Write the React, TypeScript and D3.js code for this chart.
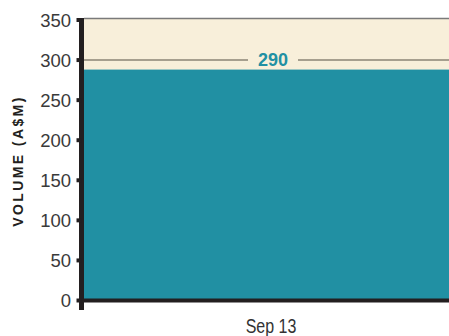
import React from "react";
import * as d3 from "d3";

const categories = ["Sep 13"];
const volumes = [290];
const yTicks = [0, 50, 100, 150, 200, 250, 300, 350];
const referenceValue = 300;
const yTitle = "VOLUME (A$M)";

export default function App() {
  const W = 449, H = 336;
  const x = d3.scaleBand().domain(categories).range([84, 462]).padding(0);
  const y = d3.scaleLinear().domain([0, 350]).range([300.5, 20]);
  const axisX = 81.5;
  const refY = y(referenceValue);
  const label = String(volumes[0]);
  const cx = (x(categories[0]) as number) + x.bandwidth() / 2;
  return (
    <svg width={W} height={H} style={{ position: "absolute", left: 0, top: 0 }}>
      <rect x={84} y={y(350) - 2} width={W - 84} height={y(0) - y(350) + 2} fill="#F8EFDA" />
      <line x1={84} x2={W} y1={y(350) - 1.5} y2={y(350) - 1.5} stroke="#7a7a7a" strokeWidth={1.5} />
      {categories.map((c, i) => (
        <rect key={c} x={x(c)} y={y(volumes[i]) + 1.5} width={x.bandwidth()} height={y(0) - y(volumes[i]) - 1.5} fill="#2190A3" />
      ))}
      <line x1={84} x2={cx - 25} y1={refY} y2={refY} stroke="#8B8474" strokeWidth={1.5} />
      <line x1={cx + 25} x2={W} y1={refY} y2={refY} stroke="#8B8474" strokeWidth={1.5} />
      <text x={cx} y={refY + 6} textAnchor="middle" fontFamily="Liberation Sans, Arial, sans-serif" fontWeight="bold" fontSize={18} fill="#2190A3">{label}</text>
      {/* axes */}
      <line x1={84} x2={W} y1={y(0)} y2={y(0)} stroke="#231F20" strokeWidth={4} />
      <line x1={axisX} x2={axisX} y1={y(350) - 2} y2={310} stroke="#231F20" strokeWidth={5} />
      {yTicks.map((t) => (
        <g key={t}>
          <line x1={76.5} x2={axisX} y1={y(t)} y2={y(t)} stroke="#231F20" strokeWidth={4} />
          <text x={71} y={y(t) + 6.5} textAnchor="end" fontFamily="Liberation Sans, Arial, sans-serif" fontSize={18.5} fill="#3a3a3a">{t}</text>
        </g>
      ))}
      {categories.map((c) => (
        <text key={c} transform={`translate(${(x(c) as number) + x.bandwidth() / 2 - 2},332.5) scale(0.8,1)`} textAnchor="middle" fontFamily="Liberation Sans, Arial, sans-serif" fontSize={20} fill="#333">{c}</text>
      ))}
      <text transform={`translate(22.5,161) rotate(-90)`} textAnchor="middle" fontFamily="Liberation Sans, Arial, sans-serif" fontWeight="bold" fontSize={14} letterSpacing={2.4} fill="#231F20">{yTitle}</text>
    </svg>
  );
}
